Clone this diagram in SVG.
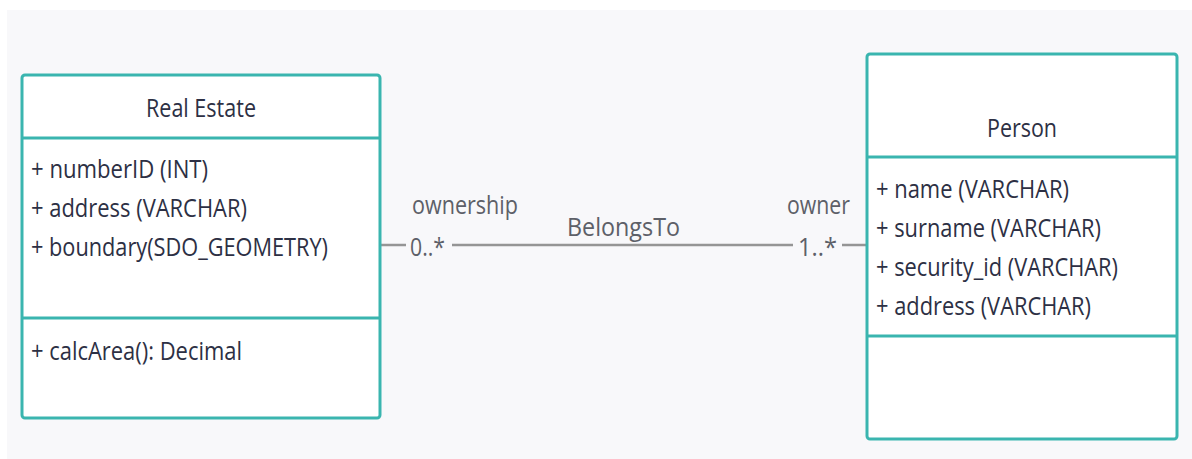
<svg xmlns="http://www.w3.org/2000/svg" width="1192" height="459" viewBox="0 0 1192 459">
  <style>
    .box { fill: #ffffff; stroke: #3ab5af; stroke-width: 3; }
    .div { stroke: #3ab5af; stroke-width: 3; }
    .t { font-family: "Open Sans", "Noto Sans", sans-serif; font-size: 26px; fill: #2d3044; }
    .lbl { font-family: "Open Sans", "Noto Sans", sans-serif; font-size: 25px; fill: #5d6068; }
    .conn { stroke: #959595; stroke-width: 2.5; fill: none; }
  </style>
  <rect x="0" y="0" width="1192" height="459" fill="#ffffff"/>
  <rect x="7" y="10" width="1185" height="449" fill="#f8f8fa"/>

  <g id="connectors">
    <line class="conn" x1="380" y1="245" x2="406" y2="245"/>
    <line class="conn" x1="452" y1="245" x2="793" y2="245"/>
    <line class="conn" x1="842" y1="245" x2="867" y2="245"/>
    <text class="lbl" x="412" y="214" textLength="106" lengthAdjust="spacingAndGlyphs">ownership</text>
    <text class="lbl" x="567" y="236" textLength="113" lengthAdjust="spacingAndGlyphs">BelongsTo</text>
    <text class="lbl" x="787" y="214" textLength="63" lengthAdjust="spacingAndGlyphs">owner</text>
    <text class="lbl" x="410" y="256" textLength="35" lengthAdjust="spacingAndGlyphs">0..*</text>
    <text class="lbl" x="798" y="256" textLength="39" lengthAdjust="spacingAndGlyphs">1..*</text>
  </g>

  <g id="real-estate">
    <rect class="box" x="22" y="75" width="358" height="343" rx="3"/>
    <line class="div" x1="22" y1="138" x2="380" y2="138"/>
    <line class="div" x1="22" y1="318" x2="380" y2="318"/>
    <text class="t" x="146" y="117" textLength="110" lengthAdjust="spacingAndGlyphs">Real Estate</text>
    <text class="t" x="31" y="178" textLength="177" lengthAdjust="spacingAndGlyphs">+ numberID (INT)</text>
    <text class="t" x="31" y="217" textLength="216" lengthAdjust="spacingAndGlyphs">+ address (VARCHAR)</text>
    <text class="t" x="31" y="256" textLength="297" lengthAdjust="spacingAndGlyphs">+ boundary(SDO_GEOMETRY)</text>
    <text class="t" x="31" y="360" textLength="211" lengthAdjust="spacingAndGlyphs">+ calcArea(): Decimal</text>
  </g>

  <g id="person">
    <rect class="box" x="867" y="54" width="310" height="385" rx="3"/>
    <line class="div" x1="867" y1="157" x2="1177" y2="157"/>
    <line class="div" x1="867" y1="336" x2="1177" y2="336"/>
    <text class="t" x="987" y="137" textLength="70" lengthAdjust="spacingAndGlyphs">Person</text>
    <text class="t" x="876" y="198" textLength="193" lengthAdjust="spacingAndGlyphs">+ name (VARCHAR)</text>
    <text class="t" x="876" y="237" textLength="225" lengthAdjust="spacingAndGlyphs">+ surname (VARCHAR)</text>
    <text class="t" x="876" y="276" textLength="242" lengthAdjust="spacingAndGlyphs">+ security_id (VARCHAR)</text>
    <text class="t" x="876" y="315" textLength="215" lengthAdjust="spacingAndGlyphs">+ address (VARCHAR)</text>
  </g>
</svg>
